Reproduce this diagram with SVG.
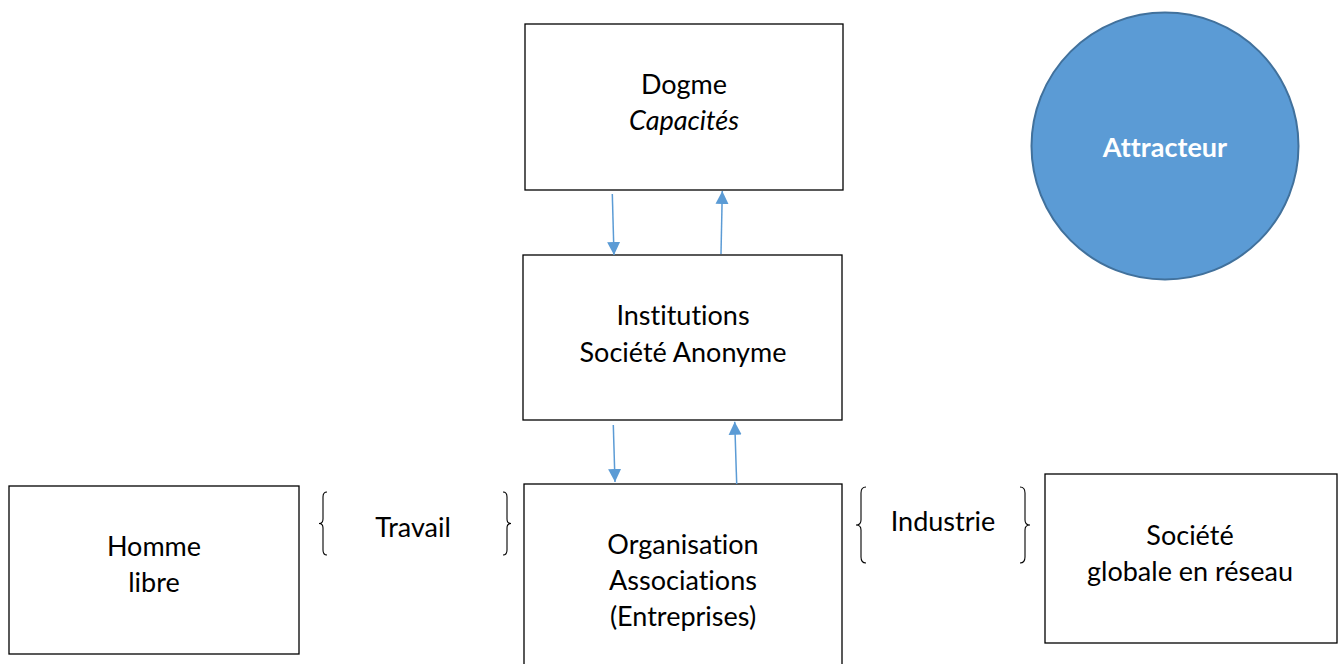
<svg xmlns="http://www.w3.org/2000/svg" width="1341" height="664" viewBox="0 0 1341 664">
<style>
.box{fill:#fff;stroke:#000;stroke-width:1.3}
.t{font-family:"Lato","Liberation Sans",sans-serif;font-size:27px;fill:#000;text-anchor:middle;font-variant-ligatures:none;font-feature-settings:"liga" 0,"dlig" 0}
.br{fill:none;stroke:#000;stroke-width:1.1}
.ar{stroke:#5B9BD5;stroke-width:1.5;fill:none;marker-end:url(#ah)}
</style>
<defs>
<marker id="ah" viewBox="0 0 10 10" refX="10" refY="5" markerUnits="userSpaceOnUse" markerWidth="13" markerHeight="14" orient="auto">
<path d="M0,0 L10,5 L0,10 Z" fill="#5B9BD5"/>
</marker>
</defs>
<rect width="1341" height="664" fill="#fff"/>
<g id="dogme"><rect class="box" x="525" y="24" width="318" height="166"/>
<text class="t" x="684" y="94">Dogme</text>
<text class="t" x="684" y="130" font-style="italic">Capacités</text></g>
<g id="institutions"><rect class="box" x="523" y="255" width="319" height="165"/>
<text class="t" x="683" y="325">Institutions</text>
<text class="t" x="683" y="362">Société Anonyme</text></g>
<g id="organisation"><rect class="box" x="524" y="484" width="318" height="190"/>
<text class="t" x="683" y="554">Organisation</text>
<text class="t" x="683" y="590">Associations</text>
<text class="t" x="683" y="626">(Entreprises)</text></g>
<g id="homme"><rect class="box" x="9" y="486" width="290" height="168"/>
<text class="t" x="154" y="556">Homme</text>
<text class="t" x="154" y="592">libre</text></g>
<g id="societe"><rect class="box" x="1045" y="474" width="292" height="169"/>
<text class="t" x="1190" y="545">Société</text>
<text class="t" x="1190" y="581">globale en réseau</text></g>
<g id="attracteur"><circle cx="1165" cy="146" r="133.5" fill="#5B9BD5" stroke="#41719C" stroke-width="2"/>
<text class="t" x="1165" y="157" style="fill:#fff;font-weight:bold">Attracteur</text></g>
<g id="travail">
<path class="br" d="M327,492 Q323,492 323,497 L323,519 Q323,523.5 319,523.5 Q323,523.5 323,528 L323,550 Q323,555 327,555"/>
<path class="br" d="M503,492 Q507,492 507,497 L507,519 Q507,523.5 511,523.5 Q507,523.5 507,528 L507,550 Q507,555 503,555"/>
<text class="t" x="413" y="537">Travail</text></g>
<g id="industrie">
<path class="br" d="M866,487 Q861,487 861,493 L861,520 Q861,525 856,525 Q861,525 861,530 L861,557 Q861,563 866,563"/>
<path class="br" d="M1020,487 Q1025,487 1025,493 L1025,520 Q1025,525 1030,525 Q1025,525 1025,530 L1025,557 Q1025,563 1020,563"/>
<text class="t" x="943" y="531">Industrie</text></g>
<g id="connectors">
<line class="ar" x1="612.3" y1="194" x2="614" y2="255"/>
<line class="ar" x1="721" y1="254" x2="722.3" y2="191"/>
<line class="ar" x1="613.3" y1="425" x2="615" y2="482"/>
<line class="ar" x1="736.7" y1="484" x2="734.7" y2="421.7"/>
</g>
</svg>
